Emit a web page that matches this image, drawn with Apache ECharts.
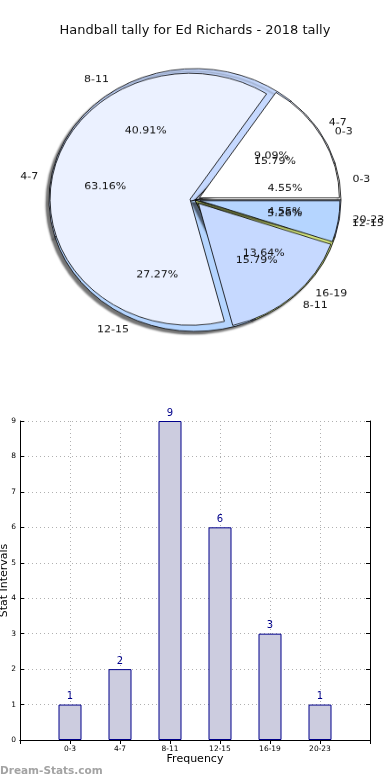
<!DOCTYPE html>
<html><head><meta charset="utf-8">
<script src="https://cdn.jsdelivr.net/npm/echarts@6/dist/echarts.min.js"></script>
<style>
html,body{margin:0;padding:0;background:#fff;}
#bar{position:absolute;left:0;top:0;width:390px;height:780px;}
#pie{position:absolute;left:0;top:0;width:390px;height:400px;transform-origin:195px 200px;transform:scaleY(0.9);}
</style></head><body>
<div id="bar"></div><div id="pie"></div>
<script>
const chartTitle = 'Handball tally for Ed Richards - 2018 tally';
const watermark = 'Dream-Stats.com';
const categories = ['0-3', '4-7', '8-11', '12-15', '16-19', '20-23'];
const counts = [1, 2, 9, 6, 3, 1];
const innerCategories = ['0-3', '4-7', '8-11', '12-15'];
const innerCounts = [3, 12, 3, 1];
const outerColors = ['#ffffff', '#ebf1ff', '#c6d9ff', '#b5d5ff', '#d4e67e', '#c6d9ff'];
const innerColors = ['#ffffff', '#ebf1ff', '#c6d9ff', '#b5d5ff'];
const xAxisTitle = 'Frequency';
const yAxisTitle = 'Stat Intervals';

const FONT = 'DejaVu Sans';

// ---------- bar chart ----------
const bar = echarts.init(document.getElementById('bar'), null, {renderer: 'canvas'});
const axisCats = [''].concat(categories, ['']);
const barData = [null].concat(counts, [null]);
const frameLine = {show: true, lineStyle: {color: '#000', width: 1}};
const dotted = {show: true, lineStyle: {type: [1, 3], color: '#b0b0b0', width: 1}};
bar.setOption({
  animation: false,
  title: [
    {text: chartTitle, left: 'center', top: 19,
     textStyle: {fontFamily: FONT, fontSize: 13, fontWeight: 'normal', color: '#111'}},
    {text: watermark, left: 0, top: 766, padding: 0,
     textStyle: {fontFamily: FONT, fontSize: 10.5, fontWeight: 'bold', color: '#a3a3a3'}}
  ],
  grid: {left: 20, right: 20, top: 421, bottom: 40, containLabel: false, outerBoundsMode: 'none'},
  xAxis: [
    {type: 'category', data: axisCats, boundaryGap: false, position: 'bottom',
     name: xAxisTitle, nameLocation: 'middle', nameGap: 14,
     nameTextStyle: {fontFamily: FONT, fontSize: 11, color: '#000'},
     axisLine: frameLine,
     axisTick: {show: true, inside: true, length: 4, interval: 0, lineStyle: {color: '#000'}},
     axisLabel: {interval: 0, fontFamily: FONT, fontSize: 7.5, color: '#000', margin: 5},
     splitLine: Object.assign({interval: 0}, dotted)},
    {type: 'category', data: axisCats, boundaryGap: false, position: 'top',
     axisLine: frameLine,
     axisTick: {show: true, inside: true, length: 4, interval: 0, lineStyle: {color: '#000'}},
     axisLabel: {show: false}, splitLine: {show: false}}
  ],
  yAxis: [
    {type: 'value', min: 0, max: 9, interval: 1, position: 'left',
     name: yAxisTitle, nameLocation: 'middle', nameGap: 10, nameRotate: 90, nameMoveOverlap: false,
     nameTextStyle: {fontFamily: FONT, fontSize: 11, color: '#000'},
     axisLine: frameLine,
     axisTick: {show: true, inside: true, length: 4, lineStyle: {color: '#000'}},
     axisLabel: {fontFamily: FONT, fontSize: 7.5, color: '#000', margin: 4},
     splitLine: dotted},
    {type: 'value', min: 0, max: 9, interval: 1, position: 'right',
     axisLine: frameLine,
     axisTick: {show: true, inside: true, length: 4, lineStyle: {color: '#000'}},
     axisLabel: {show: false}, splitLine: {show: false}}
  ],
  series: [{
    type: 'bar', data: barData, barWidth: 23, xAxisIndex: 0, yAxisIndex: 0,
    itemStyle: {color: '#ccccdf', borderColor: '#00008b', borderWidth: 1},
    label: {show: true, position: 'top', distance: 3, color: '#00008b', fontFamily: FONT, fontSize: 10},
    silent: true
  }]
});

// ---------- pie chart ----------
const pie = echarts.init(document.getElementById('pie'), null, {renderer: 'canvas'});
const R1 = 146, R2 = 140, OFF = 5, RL = 159, RP = 176;
const CX = 195, CY = 200;
function pctFormatter(arr) {
  const total = arr.reduce((a, b) => a + b, 0);
  return p => (p.value / total * 100).toFixed(2) + '%';
}
const nameLabel = {show: true, position: 'outside', formatter: '{b}', fontFamily: FONT, fontSize: 11,
  color: '#111', distanceToLabelLine: 0, alignTo: 'none'};
const pctLabel = {show: true, position: 'inside', fontFamily: FONT, fontSize: 11, color: '#111'};
const transparentItem = {color: 'rgba(0,0,0,0)', borderWidth: 0};
const noHide = {hideOverlap: false, moveOverlap: null};
const base = {type: 'pie', center: [CX, CY], startAngle: 0, clockwise: false,
  avoidLabelOverlap: false, silent: true, labelLayout: noHide};
pie.setOption({
  animation: false,
  series: [
    Object.assign({}, base, {radius: [0, R1], z: 1,
     data: categories.map((c, i) => ({name: c, value: counts[i], itemStyle: {color: outerColors[i]}})),
     itemStyle: {borderColor: '#000', borderWidth: 0.8, shadowColor: 'rgba(0,0,0,0.55)', shadowBlur: 2,
       shadowOffsetX: -3, shadowOffsetY: 3},
     label: nameLabel,
     labelLine: {show: false, length: RL - R1, length2: 0}}),
    Object.assign({}, base, {radius: [0, R2], z: 2,
     selectedMode: 'multiple', selectedOffset: OFF,
     data: innerCategories.map((c, i) => ({name: c, value: innerCounts[i], selected: true,
       itemStyle: {color: innerColors[i]}})),
     itemStyle: {borderColor: '#000', borderWidth: 0.8},
     select: {itemStyle: {borderColor: '#000', borderWidth: 0.8}},
     label: {show: false}, labelLine: {show: false}}),
    Object.assign({}, base, {radius: [0, R2], z: 3,
     data: innerCategories.map((c, i) => ({name: c, value: innerCounts[i]})),
     itemStyle: transparentItem,
     label: nameLabel,
     labelLine: {show: false, length: RL - R2, length2: 0}}),
    Object.assign({}, base, {radius: [0, RP], z: 3,
     data: categories.map((c, i) => ({name: c, value: counts[i]})),
     itemStyle: transparentItem,
     label: Object.assign({formatter: pctFormatter(counts)}, pctLabel), labelLine: {show: false}}),
    Object.assign({}, base, {radius: [0, RP], z: 3,
     data: innerCategories.map((c, i) => ({name: c, value: innerCounts[i]})),
     itemStyle: transparentItem,
     label: Object.assign({formatter: pctFormatter(innerCounts)}, pctLabel), labelLine: {show: false}})
  ]
});
</script></body></html>
